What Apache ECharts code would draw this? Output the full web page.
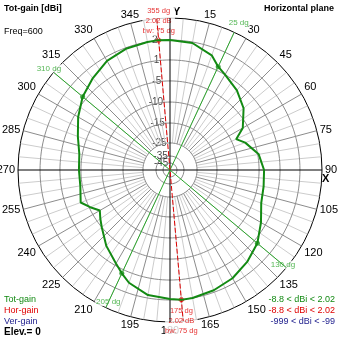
<!DOCTYPE html>
<html>
<head>
<meta charset="utf-8">
<script src="https://cdn.jsdelivr.net/npm/echarts@6/dist/echarts.min.js"></script>
<style>
html,body{margin:0;padding:0;background:#fff;}
#chart{width:339px;height:339px;}
</style>
</head>
<body>
<div id="chart"></div>
<script>
// Azimuth of each pattern sample, degrees (clockwise from Y)
const azimuth = [0,10,20,25,30,40,50,60,65,70,80,90,100,110,120,130,140,150,160,170,175,180,190,200,205,210,220,230,235,240,245,250,260,270,280,290,300,310,320,330,340,350,355];
// Total gain at each azimuth, dBi
const totGain = [2.00,1.95,1.60,1.20,1.00,-0.71,-3.00,-6.19,-8.8,-7.14,-4.71,-3.57,-3.29,-2.71,-0.43,1.20,1.50,1.75,1.90,2.00,2.02,1.95,1.85,1.50,1.20,0.43,-2.14,-5.00,-5.95,-6.90,-5.24,-3.29,-4.43,-4.43,-4.14,-2.43,-0.14,1.20,1.50,1.80,1.95,2.00,2.02];
// Gain rings, dBi
const ringGain = [2, 1, -5, -10, -15, -25, -35, -45];
// Main lobe direction / gain, and the back direction
const maxDir = 355, maxGain = 2.02, backDir = 175;
// Half-power (-3 dB) directions
const halfPowerDirs = [25, 310, 130, 205];
const beamWidth = 75;
// Gain ranges shown in the legend
const totRange = [-8.8, 2.02], horRange = [-8.8, 2.02], verRange = [-999, -99];
const freq = 600, elevation = 0;

// Gain scale: dBi -> fraction of the outer radius (piecewise between rings)
const scaleGain = [3.1, 2, 1, -5, -10, -15, -25, -35, -45, -55];
const scaleFrac = [1, 0.855, 0.724, 0.586, 0.447, 0.309, 0.178, 0.092, 0.046, 0];
function gainToR(g) {
  if (g >= scaleGain[0]) return 1;
  for (let i = 1; i < scaleGain.length; i++) {
    if (g >= scaleGain[i]) {
      const t = (g - scaleGain[i]) / (scaleGain[i - 1] - scaleGain[i]);
      return scaleFrac[i] + t * (scaleFrac[i - 1] - scaleFrac[i]);
    }
  }
  return 0;
}

const FONT = 'Liberation Sans';
const GREEN = '#138a13', RED = '#e00000', NAVY = '#1c1c8c';

// pattern curve (closed)
const curve = azimuth.map((a, i) => [gainToR(totGain[i]), a]).sort((p, q) => p[1] - q[1]);
curve.push([curve[0][0], 360]);

function circle(r) {
  const pts = [];
  for (let a = 0; a <= 360; a += 2) pts.push([r, a]);
  return pts;
}
const spokeIn = gainToR(-25);
function spokes(filter) {
  const pts = [];
  for (let a = 0; a < 360; a += 5) {
    if (a % 90 === 0 || !filter(a)) continue;
    pts.push([spokeIn, a], [1, a], '-');
  }
  return pts;
}

const series = [];
// spokes
series.push({ type: 'line', coordinateSystem: 'polar', silent: true, symbol: 'none', connectNulls: false,
  data: spokes(a => a % 15 !== 0), lineStyle: { color: '#cccccc', width: 1 }, animation: false });
series.push({ type: 'line', coordinateSystem: 'polar', silent: true, symbol: 'none', connectNulls: false,
  data: spokes(a => a % 15 === 0), lineStyle: { color: '#8c8c8c', width: 1 }, animation: false });
// gain rings
ringGain.forEach(g => series.push({ type: 'line', coordinateSystem: 'polar', silent: true, symbol: 'none',
  data: circle(gainToR(g)), lineStyle: { color: '#8c8c8c', width: 1 }, animation: false }));
// X / Y axes
series.push({ type: 'line', coordinateSystem: 'polar', silent: true, symbol: 'none',
  data: [[1, 0], [0, 0], [1, 180]], lineStyle: { color: '#000', width: 1 }, animation: false });
series.push({ type: 'line', coordinateSystem: 'polar', silent: true, symbol: 'none',
  data: [[1, 90], [0, 90], [1, 270]], lineStyle: { color: '#000', width: 1 }, animation: false });
// half-power lines
series.push({ type: 'line', coordinateSystem: 'polar', silent: true, symbol: 'none', connectNulls: false,
  data: [[1, halfPowerDirs[0]], [0, 0], [1, halfPowerDirs[3]], '-', [1, halfPowerDirs[1]], [0, 0], [1, halfPowerDirs[2]]],
  lineStyle: { color: '#2aa52a', width: 1 }, animation: false });
// main lobe direction
series.push({ type: 'line', coordinateSystem: 'polar', silent: true, symbol: 'none',
  data: [[1, maxDir], [0, 0], [1, backDir]], lineStyle: { color: RED, width: 1, type: [5, 2] }, animation: false });
// ring labels along the main lobe direction
series.push({ type: 'scatter', coordinateSystem: 'polar', silent: true, symbolSize: 0, clip: false,
  data: ringGain.map(g => [gainToR(g), maxDir, g]),
  label: { show: true, position: 'left', distance: 1, formatter: p => String(p.data[2]),
    fontFamily: FONT, fontSize: 10, color: '#111' }, animation: false });
// total gain pattern
series.push({ type: 'line', coordinateSystem: 'polar', silent: true, symbol: 'none', data: curve,
  lineStyle: { color: GREEN, width: 2 }, animation: false });
// half-power markers
series.push({ type: 'scatter', coordinateSystem: 'polar', silent: true, symbol: 'circle', symbolSize: 5, clip: false,
  data: halfPowerDirs.map(a => [gainToR(totGain[azimuth.indexOf(a)]), a]),
  itemStyle: { color: GREEN }, animation: false });
// half-power direction labels
const hpLabelR = [1.07, 1.04, 0.97, 0.96];
series.push({ type: 'scatter', coordinateSystem: 'polar', silent: true, symbolSize: 0, clip: false,
  data: halfPowerDirs.map((a, i) => [hpLabelR[i], a]),
  label: { show: true, position: 'inside', formatter: p => p.data[1] + ' dg',
    fontFamily: FONT, fontSize: 8, color: '#2aa52a', backgroundColor: '#fff', padding: [0, 1] }, animation: false });
// maximum markers with their readouts
series.push({ type: 'scatter', coordinateSystem: 'polar', silent: true, symbol: 'diamond', symbolSize: 7, clip: false,
  data: [
    { value: [gainToR(maxGain), maxDir], label: { position: 'top', distance: 1 } },
    { value: [gainToR(maxGain), backDir], label: { position: 'bottom', distance: 3 } }
  ],
  itemStyle: { color: RED },
  label: { show: true, formatter: p => p.data.value[1] + ' dg\n' + maxGain.toFixed(2) + ' dB\nbw: ' + beamWidth + ' dg',
    fontFamily: FONT, fontSize: 7.5, lineHeight: 10, color: RED, backgroundColor: '#fff', align: 'center' }, animation: false });

const chart = echarts.init(document.getElementById('chart'), null, { renderer: 'canvas' });
chart.setOption({
  animation: false,
  backgroundColor: '#fff',
  polar: { center: [170, 170], radius: 152 },
  angleAxis: {
    type: 'value', min: 0, max: 360, interval: 15, startAngle: 90, clockwise: true,
    axisLine: { show: true, lineStyle: { color: '#000', width: 1 } },
    axisTick: { show: false },
    splitLine: { show: false },
    axisLabel: { show: true, margin: 3, fontFamily: FONT, fontSize: 11, color: '#000',
      formatter: v => (v === 0 || v === 360) ? '' : String(v) }
  },
  radiusAxis: {
    type: 'value', min: 0, max: 1,
    axisLine: { show: false }, axisTick: { show: false }, axisLabel: { show: false }, splitLine: { show: false }
  },
  graphic: [
    { type: 'text', left: 4, top: 4, style: { text: 'Tot-gain [dBi]', font: 'bold 9px "' + FONT + '"', fill: '#000' } },
    { type: 'text', left: 4, top: 27, style: { text: 'Freq=' + freq, font: '9px "' + FONT + '"', fill: '#000' } },
    { type: 'text', right: 5, top: 4, style: { text: 'Horizontal plane', font: 'bold 9px "' + FONT + '"', fill: '#000' } },
    { type: 'text', left: 173, top: 6, style: { text: 'Y', font: 'bold 11px "' + FONT + '"', fill: '#000' } },
    { type: 'text', left: 322, top: 173, style: { text: 'X', font: 'bold 11px "' + FONT + '"', fill: '#000' } },
    { type: 'text', left: 4, top: 295, style: { text: 'Tot-gain', font: '9px "' + FONT + '"', fill: GREEN } },
    { type: 'text', left: 4, top: 306, style: { text: 'Hor-gain', font: '9px "' + FONT + '"', fill: RED } },
    { type: 'text', left: 4, top: 317, style: { text: 'Ver-gain', font: '9px "' + FONT + '"', fill: NAVY } },
    { type: 'text', left: 4, top: 327, style: { text: 'Elev.= ' + elevation, font: 'bold 10px "' + FONT + '"', fill: '#000' } },
    { type: 'text', right: 4, top: 295, style: { text: totRange[0] + ' < dBi < ' + totRange[1].toFixed(2), font: '9px "' + FONT + '"', fill: GREEN } },
    { type: 'text', right: 4, top: 306, style: { text: horRange[0] + ' < dBi < ' + horRange[1].toFixed(2), font: '9px "' + FONT + '"', fill: RED } },
    { type: 'text', right: 4, top: 317, style: { text: verRange[0] + ' < dBi < ' + verRange[1], font: '9px "' + FONT + '"', fill: NAVY } }
  ],
  series: series
});
</script>
</body>
</html>
